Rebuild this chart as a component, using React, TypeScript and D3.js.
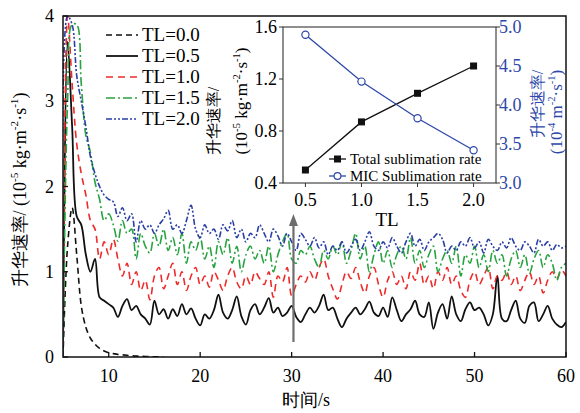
import React from "react";
import * as d3 from "d3";

// sample times (s), 0.5 s apart
const times = d3.range(5, 60.001, 0.5);

const tl00 = [0, 1.3, 1.75, 1.2, 0.6, 0.35, 0.22, 0.15, 0.1, 0.07, 0.05, 0.04, 0.03, 0.025, 0.02, 0.015, 0.01, 0.01, 0.006, 0.004, 0.002, 0.001, 0];

const tl05 = [
  0, 3.7, 2.7, 1.65, 1.55, 1.2, 1.0, 1.15, 0.7, 0.66,
  0.62, 0.58, 0.47, 0.6, 0.68, 0.55, 0.6, 0.5, 0.45, 0.38,
  0.66, 0.5, 0.56, 0.45, 0.56, 0.48, 0.62, 0.5, 0.57, 0.45,
  0.37, 0.5, 0.45, 0.55, 0.73, 0.52, 0.45, 0.55, 0.71, 0.48,
  0.38, 0.55, 0.62, 0.5, 0.58, 0.69, 0.52, 0.58, 0.48, 0.52,
  0.6, 0.47, 0.41, 0.5, 0.58, 0.52, 0.6, 0.73, 0.55, 0.58,
  0.45, 0.35, 0.45, 0.52, 0.58, 0.5, 0.56, 0.65, 0.52, 0.48,
  0.58, 0.47, 0.7, 0.55, 0.42, 0.5, 0.56, 0.66, 0.5, 0.47,
  0.64, 0.33, 0.52, 0.62, 0.45, 0.71, 0.5, 0.42, 0.56, 0.64,
  0.55, 0.58, 0.5, 0.37, 0.5, 0.95, 0.45, 0.42, 0.55, 0.66,
  0.45, 0.4, 0.6, 0.64, 0.42, 0.5, 0.6, 0.45, 0.38, 0.35, 0.41,
];

const tl10 = [
  0, 4.0, 3.2, 2.5, 2.15, 1.9, 1.6, 1.5, 1.15, 1.35,
  1.2, 1.38, 1.15, 0.95, 1.1, 0.85, 1.0, 0.78, 0.9, 0.67,
  0.95, 1.05, 0.8, 0.95, 1.1, 0.85, 1.0, 0.78, 0.95, 1.05,
  0.85, 0.95, 0.82, 1.0, 0.9, 0.78, 0.95, 1.05, 0.88, 0.8,
  0.95, 0.85, 1.0, 0.92, 0.85, 1.0, 0.7, 0.95, 0.88, 1.05,
  0.72, 0.85, 0.95, 0.88, 1.0, 0.9, 1.05, 1.15, 0.95, 0.8,
  0.68, 0.85, 1.0, 0.92, 1.05, 0.88, 0.75, 0.95, 1.05, 0.85,
  0.7, 0.9, 1.0, 0.85, 0.95, 0.8, 1.0, 0.9, 1.1, 0.85,
  0.95, 0.8, 1.0, 0.9, 1.05, 0.85, 0.95, 0.78, 0.7, 0.9,
  1.0, 0.85, 0.95, 1.05, 0.8, 0.95, 0.9, 1.0, 0.85, 0.95,
  0.78, 0.9, 1.0, 0.85, 0.95, 0.75, 0.9, 1.0, 0.92, 1.02, 0.95,
];

const tl15 = [
  0, 3.0, 3.9, 3.9, 3.2, 2.6, 2.4, 2.05, 1.85, 1.6,
  1.68, 1.55, 1.36, 1.6, 1.45, 1.5, 1.15, 1.45, 1.3, 1.22,
  1.45, 1.3, 1.5, 1.25, 1.4, 1.2, 1.45, 1.1, 1.35, 1.25,
  1.4, 1.15, 1.3, 1.05, 1.35, 1.2, 1.4, 1.1, 1.3, 1.0,
  1.2, 1.3, 1.15, 1.25, 1.1, 1.3, 1.0, 1.2, 1.35, 1.45,
  1.15, 1.1, 1.25, 1.2, 1.3, 1.15, 1.05, 1.25, 1.15, 1.3,
  1.2, 1.35, 1.1, 1.25, 1.45, 1.15, 1.3, 1.0, 1.2, 1.35,
  1.1, 1.25, 1.05, 1.2, 1.3, 1.15, 1.4, 1.1, 1.25, 1.05,
  1.2, 1.3, 1.0, 1.15, 1.25, 1.1, 1.3, 0.95, 1.2, 1.1,
  1.3, 1.05, 1.2, 1.0, 1.25, 1.1, 1.2, 0.95, 1.15, 1.25,
  1.05, 1.2, 0.98, 1.15, 1.25, 1.05, 1.2, 1.1, 0.9, 1.05, 1.1,
];

const tl20 = [
  0, 4.0, 3.9, 3.3, 3.0, 2.7, 2.35, 2.15, 2.0, 1.9,
  1.85, 1.82, 1.65, 1.75, 1.6, 1.68, 1.35, 1.6, 1.5, 1.55,
  1.45, 1.55, 1.62, 1.72, 1.5, 1.55, 1.45, 1.6, 1.78, 1.5,
  1.4, 1.55, 1.45, 1.5, 1.38, 1.55, 1.48, 1.6, 1.4, 1.5,
  1.35, 1.45, 1.4, 1.55, 1.45, 1.35, 1.5, 1.42, 1.3, 1.45,
  1.35, 1.25, 1.45, 1.38, 1.3, 1.4, 1.28, 1.35, 1.2, 1.3,
  1.25, 1.35, 1.22, 1.3, 1.38, 1.25, 1.35, 1.47, 1.3, 1.25,
  1.35, 1.28, 1.4, 1.3, 1.22, 1.35, 1.45, 1.3, 1.38, 1.25,
  1.35, 1.4, 1.45, 1.38, 1.22, 1.3, 1.25, 1.35, 1.3, 1.4,
  1.28, 1.35, 1.22, 1.38, 1.3, 1.25, 1.35, 1.28, 1.4, 1.3,
  1.25, 1.35, 1.3, 1.22, 1.38, 1.3, 1.35, 1.25, 1.32, 1.28, 1.3,
];

const seriesNames = ["TL=0.0", "TL=0.5", "TL=1.0", "TL=1.5", "TL=2.0"];
const seriesValues = [tl00, tl05, tl10, tl15, tl20];

// inset: rates vs TL
const insetTL = [0.5, 1.0, 1.5, 2.0];
const totalRate = [0.5, 0.87, 1.09, 1.3];
const micRate = [4.9, 4.3, 3.83, 3.42];

const xTicks = [10, 20, 30, 40, 50, 60];
const yTicks = [0, 1, 2, 3, 4];
const insetXTicks = [0.5, 1.0, 1.5, 2.0];
const insetLeftTicks = [0.4, 0.8, 1.2, 1.6];
const insetRightTicks = [3.0, 3.5, 4.0, 4.5, 5.0];
const arrowTime = 30.2;

const styles = [
  { color: "#111", dash: "6,4", width: 1.6 },
  { color: "#111", dash: null, width: 1.8 },
  { color: "#ee2b2b", dash: "7,5", width: 1.6 },
  { color: "#27a33f", dash: "9,3,2,3", width: 1.6 },
  { color: "#2a3fa6", dash: "6,2,2,2,2,2", width: 1.6 },
];

const SERIF = "Liberation Serif, Tinos, Times New Roman, serif";
const BLUE = "#2d48a8";

type Part = [string, boolean];
const mainUnit: Part[] = [["升华速率/ (10", false], ["-5", true], [" kg·m", false], ["-2", true], ["·s", false], ["-1", true], [")", false]];
const insetLeftUnit: Part[] = [["(10", false], ["-5", true], [" kg·m", false], ["-2", true], ["·s", false], ["-1", true], [")", false]];
const insetRightUnit: Part[] = [["(10", false], ["-4", true], [" m", false], ["-2", true], ["·s", false], ["-1", true], [")", false]];

function rich(parts: Part[], fs: number) {
  let up = false;
  return parts.map(([t, sup], i) => {
    let dy = 0;
    if (sup && !up) { dy = -fs * 0.42; up = true; }
    else if (!sup && up) { dy = fs * 0.42; up = false; }
    return (
      <tspan key={i} dy={dy} fontSize={sup ? fs * 0.62 : fs}>{t}</tspan>
    );
  });
}

export default function App() {
  const width = 580;
  const height = 413;
  const plot = { left: 63, right: 566, top: 16, bottom: 357 };
  const inset = { left: 283, right: 496, top: 27, bottom: 183 };

  const x = d3.scaleLinear().domain([5, 60]).range([plot.left, plot.right]);
  const y = d3.scaleLinear().domain([0, 4]).range([plot.bottom, plot.top]);

  const ix = d3.scaleLinear().domain([0.3, 2.2]).range([inset.left, inset.right]);
  const iyL = d3.scaleLinear().domain([0.4, 1.6]).range([inset.bottom, inset.top]);
  const iyR = d3.scaleLinear().domain([3.0, 5.0]).range([inset.bottom, inset.top]);

  const line = d3
    .line<number>()
    .x((_, i) => x(times[i]))
    .y((d) => y(d))
    .curve(d3.curveCatmullRom.alpha(0.5));

  const totalLine = d3.line<number>().x((_, i) => ix(insetTL[i])).y((d) => iyL(d));
  const micLine = d3.line<number>().x((_, i) => ix(insetTL[i])).y((d) => iyR(d));

  const legendY = [35, 56, 77, 98, 119];

  return (
    <svg
      width={width}
      height={height}
      style={{ position: "absolute", left: 0, top: 0, background: "#fff", fontFamily: SERIF }}
    >
      <defs>
        <clipPath id="plot-clip">
          <rect x={plot.left} y={plot.top} width={plot.right - plot.left} height={plot.bottom - plot.top} />
        </clipPath>
      </defs>

      {/* series */}
      <g clipPath="url(#plot-clip)">
        {seriesValues.map((vals, k) => (
          <path
            key={seriesNames[k]}
            d={line(vals) || ""}
            fill="none"
            stroke={styles[k].color}
            strokeWidth={styles[k].width}
            strokeDasharray={styles[k].dash || undefined}
          />
        ))}
      </g>

      {/* arrow */}
      <line x1={x(arrowTime)} x2={x(arrowTime)} y1={342} y2={224} stroke="#6e6e6e" strokeWidth={2.2} />
      <path
        d={`M ${x(arrowTime)} 214 L ${x(arrowTime) + 4.5} 226 L ${x(arrowTime) - 4.5} 226 Z`}
        fill="#6e6e6e"
      />

      {/* frame */}
      <rect
        x={plot.left}
        y={plot.top}
        width={plot.right - plot.left}
        height={plot.bottom - plot.top}
        fill="none"
        stroke="#111"
        strokeWidth={1.5}
      />

      {/* x axis */}
      {xTicks.map((t) => (
        <g key={t}>
          <line x1={x(t)} x2={x(t)} y1={plot.bottom} y2={plot.bottom - 5} stroke="#111" strokeWidth={1.3} />
          <text x={x(t)} y={382} textAnchor="middle" fontSize={18}>{t}</text>
        </g>
      ))}
      <text x={306} y={406} textAnchor="middle" fontSize={18}>时间/s</text>

      {/* y axis */}
      {yTicks.map((t) => (
        <g key={t}>
          <line x1={plot.left} x2={plot.left + 5} y1={y(t)} y2={y(t)} stroke="#111" strokeWidth={1.3} />
          <text x={54} y={y(t) + 6} textAnchor="end" fontSize={18}>{t}</text>
        </g>
      ))}
      <text transform={`translate(26, 190) rotate(-90)`} textAnchor="middle" fontSize={18}>
        {rich(mainUnit, 18)}
      </text>

      {/* legend */}
      {seriesNames.map((name, k) => (
        <g key={name}>
          <line
            x1={106}
            x2={138}
            y1={legendY[k]}
            y2={legendY[k]}
            stroke={styles[k].color}
            strokeWidth={styles[k].width}
            strokeDasharray={styles[k].dash || undefined}
          />
          <text x={142} y={legendY[k] + 6} fontSize={19}>{name}</text>
        </g>
      ))}

      {/* inset */}
      <rect
        x={inset.left}
        y={inset.top}
        width={inset.right - inset.left}
        height={inset.bottom - inset.top}
        fill="#fff"
        stroke="#333"
        strokeWidth={1.1}
      />
      {insetXTicks.map((t) => (
        <g key={t}>
          <line x1={ix(t)} x2={ix(t)} y1={inset.bottom} y2={inset.bottom + 4} stroke="#333" />
          <text x={ix(t)} y={206} textAnchor="middle" fontSize={18}>{t.toFixed(1)}</text>
        </g>
      ))}
      {insetLeftTicks.map((t) => (
        <g key={t}>
          <line x1={inset.left - 4} x2={inset.left} y1={iyL(t)} y2={iyL(t)} stroke="#333" />
          <text x={277} y={iyL(t) + 6} textAnchor="end" fontSize={18}>{t.toFixed(1)}</text>
        </g>
      ))}
      {insetRightTicks.map((t) => (
        <g key={t}>
          <line x1={inset.right} x2={inset.right + 4} y1={iyR(t)} y2={iyR(t)} stroke="#333" />
          <text x={499} y={iyR(t) + 6} fontSize={18} fill={BLUE}>{t.toFixed(1)}</text>
        </g>
      ))}
      <text x={387} y={226} textAnchor="middle" fontSize={19}>TL</text>

      <text transform={`translate(219, 121) rotate(-90)`} textAnchor="middle" fontSize={16}>升华速率/</text>
      <text transform={`translate(247, 101) rotate(-90)`} textAnchor="middle" fontSize={17}>
        {rich(insetLeftUnit, 17)}
      </text>
      <text transform={`translate(543, 104) rotate(-90)`} textAnchor="middle" fontSize={16} fill={BLUE}>升华速率/</text>
      <text transform={`translate(562, 112) rotate(-90)`} textAnchor="middle" fontSize={17} fill={BLUE}>
        {rich(insetRightUnit, 17)}
      </text>

      <path d={totalLine(totalRate) || ""} fill="none" stroke="#111" strokeWidth={1.3} />
      {totalRate.map((v, i) => (
        <rect key={i} x={ix(insetTL[i]) - 3.5} y={iyL(v) - 3.5} width={7} height={7} fill="#111" />
      ))}
      <path d={micLine(micRate) || ""} fill="none" stroke={BLUE} strokeWidth={1.3} />
      {micRate.map((v, i) => (
        <circle key={i} cx={ix(insetTL[i])} cy={iyR(v)} r={3.6} fill="#fff" stroke={BLUE} strokeWidth={1.2} />
      ))}

      {/* inset legend */}
      <line x1={329} x2={346} y1={159} y2={159} stroke="#111" strokeWidth={1.3} />
      <rect x={334} y={155.5} width={7} height={7} fill="#111" />
      <text x={350} y={164} fontSize={15}>Total sublimation rate</text>
      <line x1={329} x2={346} y1={176} y2={176} stroke={BLUE} strokeWidth={1.3} />
      <circle cx={337.5} cy={176} r={3.4} fill="#fff" stroke={BLUE} strokeWidth={1.2} />
      <text x={350} y={181} fontSize={15}>MIC Sublimation rate</text>
    </svg>
  );
}
